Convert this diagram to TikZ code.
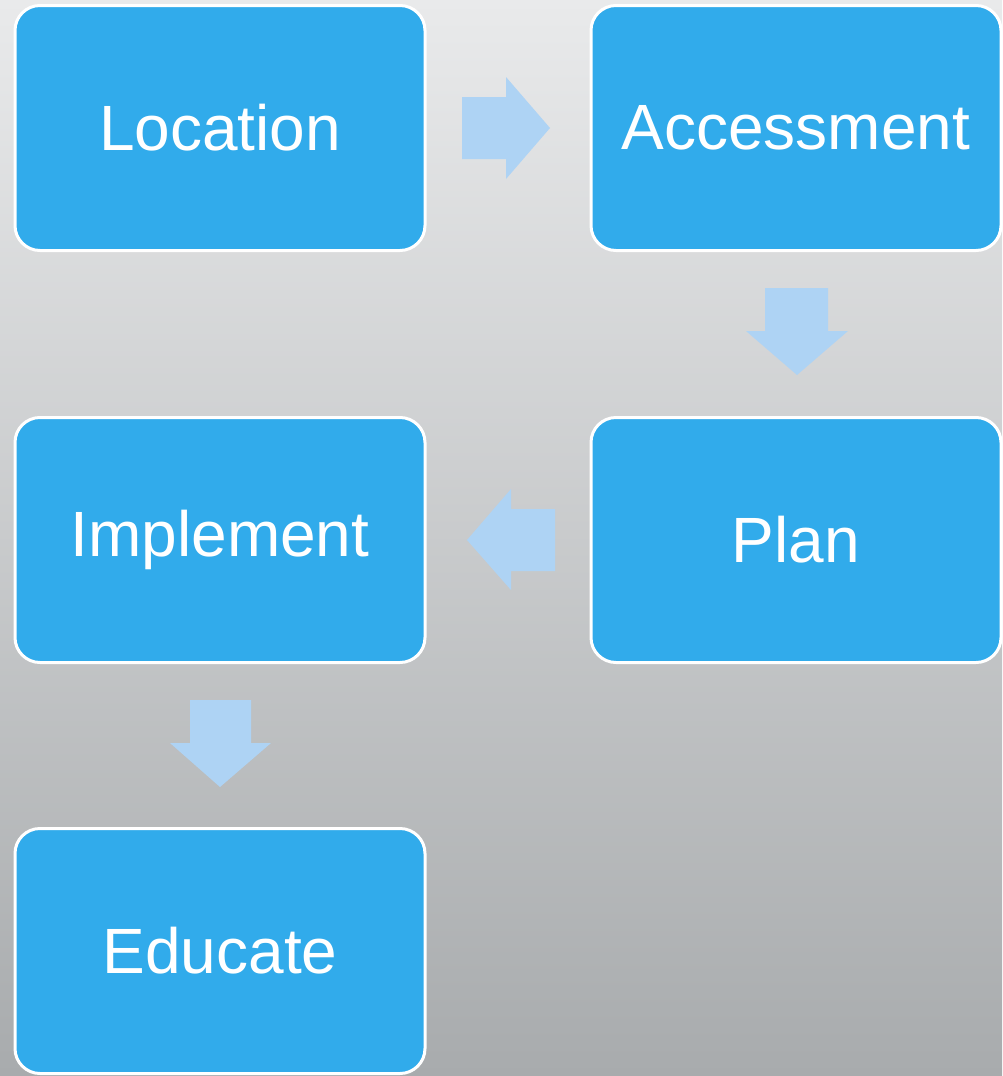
\documentclass[tikz,border=0pt]{standalone}
\usepackage{fontspec}
\setmainfont{Liberation Sans}
\definecolor{boxblue}{HTML}{31ABEB}
\definecolor{arrowblue}{HTML}{AED3F4}
\definecolor{bgtop}{HTML}{E9EAEB}
\definecolor{bgbot}{HTML}{A8ABAD}
\begin{document}
\begin{tikzpicture}[x=1pt,y=-1pt,
  stepbox/.style={draw=white,line width=3pt,fill=boxblue,rounded corners=25pt,
    minimum width=410pt,minimum height=245pt,text=white,inner sep=0pt,
    font=\fontsize{64}{70}\selectfont,anchor=center}]
\useasboundingbox (0,0) rectangle (1002,1076);
\shade[top color=bgtop,bottom color=bgbot] (0,0) rectangle (1002,1076);
\node[stepbox] (loc) at (220,128) {Location};
\node[stepbox] (acc) at (796,128) {Accessment};
\node[stepbox] (plan) at (796,540) {Plan};
\node[stepbox] (imp) at (220,540) {Implement};
\node[stepbox] (edu) at (220,951) {Educate};
% arrows
\fill[arrowblue] (462,97) -- (506,97) -- (506,77) -- (550,128) -- (506,179) -- (506,159) -- (462,159) -- cycle;
\fill[arrowblue] (765,288) -- (828,288) -- (828,331) -- (848,331) -- (797,375) -- (746,331) -- (765,331) -- cycle;
\fill[arrowblue] (555,509) -- (511,509) -- (511,489) -- (467,540) -- (511,590) -- (511,571) -- (555,571) -- cycle;
\fill[arrowblue] (190,700) -- (251,700) -- (251,743) -- (271,743) -- (220,787) -- (170,743) -- (190,743) -- cycle;
\end{tikzpicture}
\end{document}
